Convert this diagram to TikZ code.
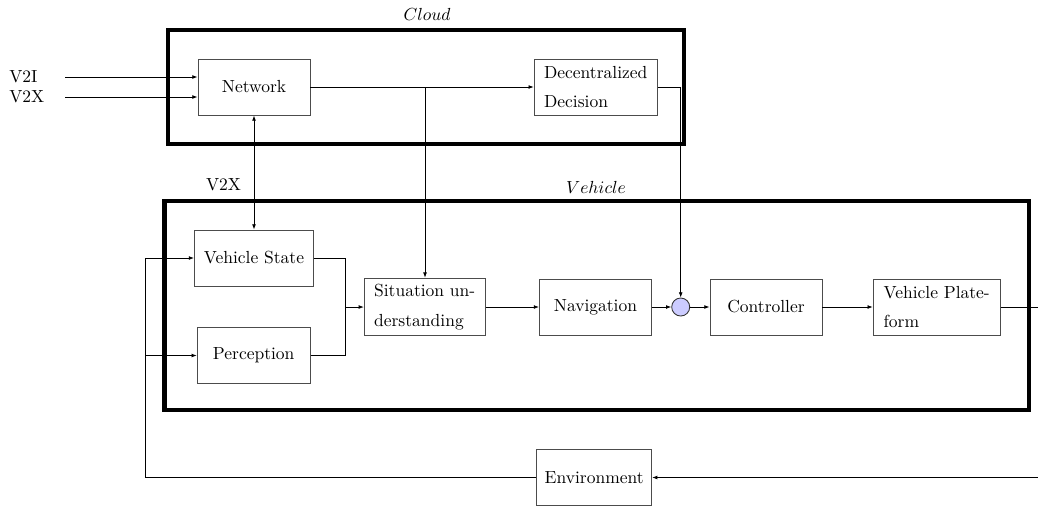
\documentclass[tikz,border=0pt]{standalone}
\usetikzlibrary{arrows.meta}
\begin{document}
\begin{tikzpicture}[x=0.5714pt,y=-0.5714pt,
  box/.style={draw=black!70, line width=0.5pt, minimum height=32pt, inner sep=2pt, align=left, font={\fontsize{10}{17}\selectfont}},
  grp/.style={draw=black, line width=2.6pt},
  arr/.style={-{Latex[length=3pt,width=2.2pt]}, line width=0.45pt},
  arrs/.style={{Latex[length=3pt,width=2.2pt]}-{Latex[length=3pt,width=2.2pt]}, line width=0.45pt},
  ln/.style={line width=0.45pt},
  sumc/.style={circle, draw=black!80, fill=blue!20, line width=0.5pt, minimum size=10.3pt, inner sep=0pt}]
\useasboundingbox (0,0) rectangle (1038,507);
% group frames
\draw[grp] (168,30) rectangle (684,144);
\draw[grp] (164.5,201) rectangle (1029,410);
\node (cloudlbl) at (427,14) {$Cloud$};
\node (vehlbl) at (596,187) {$Vehicle$};
% nodes
\node[box, minimum width=64pt] (net) at (254,87) {Network};
\node[box, minimum width=70.3pt] (dec) at (595.7,87) {Decentralized\\Decision};
\node[box, minimum width=68pt] (vs) at (254,258) {Vehicle State};
\node[box, minimum width=64.5pt] (per) at (253.7,355.5) {Perception};
\node[box, minimum width=69pt, minimum height=33pt] (sit) at (424.7,307) {Situation un-\\derstanding};
\node[box, minimum width=64pt] (nav) at (595.5,307) {Navigation};
\node[sumc] (sum) at (680.7,307) {};
\node[box, minimum width=64pt] (ctl) at (766,307) {Controller};
\node[box, minimum width=72.5pt] (vp) at (936.7,307) {Vehicle Plate-\\form};
\node[box, minimum width=65.7pt] (env) at (594.2,477.5) {Environment};
% external labels
\node[anchor=west, inner sep=0pt] (v2i) at (9,77) {V2I};
\node[anchor=west, inner sep=0pt] (v2x) at (9,97) {V2X};
\node (v2xl) at (223.5,185) {V2X};
% connectors
\coordinate (s1) at (65,77);
\coordinate (s2) at (65,97);
\draw[arr] (s1) -- (s1 -| net.west);
\draw[arr] (s2) -- (s2 -| net.west);
\draw[arr] (net.east) -- (dec.west);
\coordinate (br) at (425,87);
\draw[arr] (br) -- (br |- sit.north);
\draw[arr] (dec.east) -| (sum.north);
\draw[arrs] (net.south) -- (vs.north);
\coordinate (mg) at (345,307);
\draw[ln] (vs.east) -| (mg);
\draw[ln] (per.east) -| (mg);
\draw[arr] (mg) -- (sit.west);
\draw[arr] (sit.east) -- (nav.west);
\draw[arr] (nav.east) -- (sum.west);
\draw[arr] (sum.east) -- (ctl.west);
\draw[arr] (ctl.east) -- (vp.west);
\coordinate (rt) at (1042,477.5);
\draw[arr] (vp.east) -| (rt) -- (env.east);
\coordinate (fb) at (145,258);
\draw[arr] (env.west) -| (fb) -- (vs.west);
\draw[arr] (fb |- per.west) -- (per.west);
\end{tikzpicture}
\end{document}
